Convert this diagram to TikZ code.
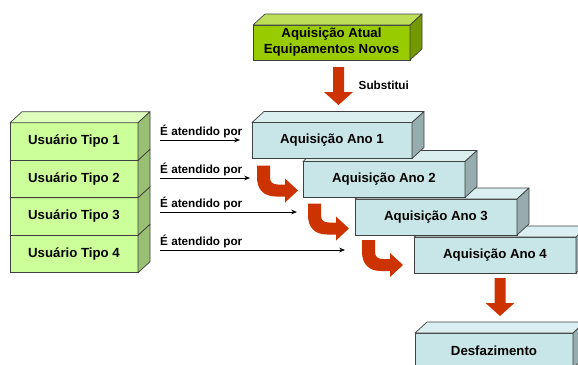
\documentclass[tikz,border=0pt]{standalone}
\usepackage{fontspec}
\setmainfont{Liberation Sans}
\usepackage{xcolor}
\usepackage{tikz}
\usetikzlibrary{positioning,calc,arrows.meta}

\definecolor{verdeforte}{HTML}{99CC00}
\definecolor{verdeclaro}{HTML}{CCFF99}
\definecolor{azulclaro}{HTML}{C8E6E8}
\definecolor{vermelho}{HTML}{CC3300}
\definecolor{borda}{HTML}{404040}
\def\px{0.03cm}

\tikzset{
  frente/.style={draw=borda, line width=0.6pt, outer sep=0pt, inner sep=0pt,
    font=\fontsize{11.3}{13.7}\selectfont\bfseries, align=center},
  face/.style={draw=borda, line width=0.6pt, line join=round},
  rotulo/.style={font=\fontsize{10}{12}\selectfont\bfseries, inner sep=0pt},
  seta/.style={line width=0.8pt, -{Stealth[length=5pt,width=4pt]}},
  desce/.pic={\fill[vermelho] (-5.5,0) -- (5.5,0) -- (5.5,25) -- (14.5,25) -- (0,38)
    -- (-14.5,25) -- (-5.5,25) -- cycle;},
  curva/.pic={\fill[vermelho] (0,0) -- (13,0) -- (13,12) .. controls (13,17) and (16,19) .. (21,19)
    -- (28,19) -- (28,13) -- (41,25) -- (28,37) -- (28,31) -- (19,31)
    .. controls (6,31) and (0,23) .. (0,12) -- cycle;}
}

% caixa 3D: nome, centro, largura, altura, cor, texto
\newcommand{\caixa}[6]{%
  \node[frente, fill=#5, minimum width=#3*\px, minimum height=#4*\px] (#1) at (#2) {#6};
  \draw[face, fill=#5!65!white] (#1.north west) -- ++(12,-11) -- ($(#1.north east)+(12,-11)$) -- (#1.north east) -- cycle;
  \draw[face, fill=#5!75!black] (#1.north east) -- ++(12,-11) -- ($(#1.south east)+(12,-11)$) -- (#1.south east) -- cycle;
}

\begin{document}
\begin{tikzpicture}[x=1*\px, y=-1*\px]
    \useasboundingbox (0,0) rectangle (578,365);
    \clip (0,0) rectangle (578,365);

    % aquisicao atual
    \caixa{atual}{331.5,42.5}{157}{35}{verdeforte}{Aquisição Atual\\Equipamentos Novos}
    \pic at ($(atual.south)+(7,7)$) {desce};
    \node[rotulo, anchor=west] (subst) at ($(atual.south)+(27,25)$) {Substitui};

    % usuarios
    \caixa{tipo4}{74,254}{128}{37.5}{verdeclaro}{Usuário Tipo 4}
    \caixa{tipo3}{74,216.5}{128}{37.5}{verdeclaro}{Usuário Tipo 3}
    \caixa{tipo2}{74,179}{128}{37.5}{verdeclaro}{Usuário Tipo 2}
    \caixa{tipo1}{74,141.5}{128}{37.5}{verdeclaro}{Usuário Tipo 1}

    % aquisicoes por ano
    \caixa{ano4}{495,255}{162}{36}{azulclaro}{Aquisição Ano 4}
    \caixa{ano3}{436,217}{162}{36}{azulclaro}{Aquisição Ano 3}
    \caixa{ano2}{384,179.5}{162}{36}{azulclaro}{Aquisição Ano 2}
    \caixa{ano1}{332,140.5}{160}{36}{azulclaro}{Aquisição Ano 1}

    \pic at ($(ano1.south west)+(5,7)$) {curva};
    \pic at ($(ano2.south west)+(5,6)$) {curva};
    \pic at ($(ano3.south west)+(7,5)$) {curva};

    % desfazimento
    \caixa{desfaz}{494,350.5}{158}{35}{azulclaro}{Desfazimento}
    \pic at ($(ano4.south)+(5,5)$) {desce};

    % atendimento
    \coordinate (a1) at ($(tipo1.east)+(22,-1.5)$);
    \coordinate (a2) at ($(tipo2.east)+(22,-1)$);
    \coordinate (a3) at ($(tipo3.east)+(22,-4.5)$);
    \coordinate (a4) at ($(tipo4.east)+(22,-4)$);
    \draw[seta] (a1) -- ($(ano1.west)+(-12,-0.5)$);
    \draw[seta] (a2) -- ($(ano2.west)+(-53,-1.5)$);
    \draw[seta] (a3) -- ($(ano3.west)+(-58,-5)$);
    \draw[seta] (a4) -- ($(ano4.west)+(-69,-5)$);
    \node[rotulo, above right=1.5pt and 0pt of a1] (r1) {É atendido por};
    \node[rotulo, above right=1.5pt and 0pt of a2] (r2) {É atendido por};
    \node[rotulo, above right=1.5pt and 0pt of a3] (r3) {É atendido por};
    \node[rotulo, above right=1.5pt and 0pt of a4] (r4) {É atendido por};
\end{tikzpicture}
\end{document}
